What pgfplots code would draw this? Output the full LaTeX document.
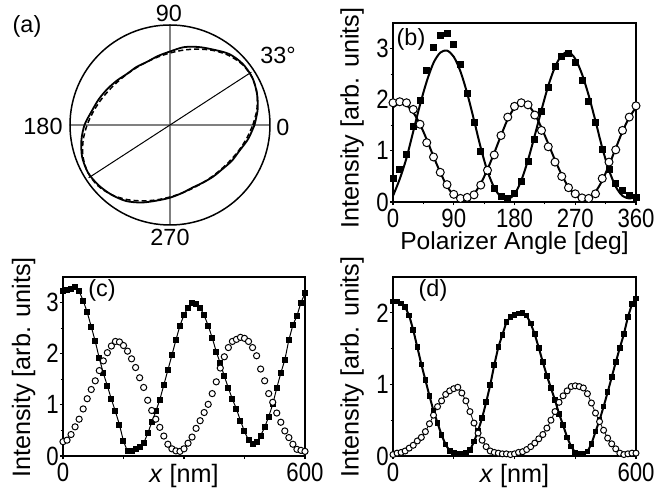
\documentclass[border=0pt]{standalone}
\usepackage{fontspec}
\setmainfont{Liberation Sans}
\newfontfamily\tickfont[FakeStretch=0.84]{Liberation Sans}
\usepackage{pgfplots}
\pgfplotsset{compat=1.18}
\usepgfplotslibrary{polar}

\pgfplotsset{
  panel/.style={scale only axis, anchor=south west, clip=false,
    axis line style={line width=1pt}, tick pos=left, tick align=outside,
    major tick length=1.6pt, minor tick length=1.2pt,
    every tick/.style={black, line width=0.6pt},
    ticklabel style={font=\tickfont\fontsize{13.2}{14}\selectfont},
    xticklabel style={inner sep=0pt, yshift=-1.5pt},
    yticklabel style={inner sep=0.3pt},
    /pgf/number format/assume math mode=true},
  sq/.style={only marks, mark=square*, mark size=#1, mark options={fill=black, draw=black}},
  circ/.style={only marks, mark=*, mark size=#1, mark options={fill=white, draw=black, line width=0.5pt}},
}
\newcommand{\lab}{\fontsize{11.7}{13}\selectfont}
\newcommand{\axl}{\fontsize{12.6}{14}\selectfont}

\begin{document}
\begin{tikzpicture}
\useasboundingbox (0,0) rectangle (329.5pt,245.5pt);

% (a) polar plot
\begin{polaraxis}[at={(85pt,183pt)}, anchor=center, scale only axis,
  width=100pt, height=100pt, ymin=0, ymax=1, ytick=\empty,
  xtick={0,90,180,270}, xticklabels=\empty, major tick length=0pt,
  xmajorgrids, grid style={black!50, line width=0.6pt},
  separate axis lines, x axis line style={line width=0.75pt},
  y axis line style={draw=none}, clip=false]
\addplot[no marks, black, line width=0.5pt] coordinates {(33,0.97) (213,0.97)};
\addplot[no marks, smooth, black, line width=0.9pt] coordinates {
 (0,0.845) (10,0.890) (20,0.925) (30,0.950) (40,0.950) (50,0.925) (60,0.870)
 (70,0.830) (80,0.790) (90,0.735) (100,0.700) (110,0.672) (120,0.670) (130,0.668)
 (140,0.692) (150,0.722) (160,0.757) (170,0.795) (180,0.855) (190,0.900) (200,0.935)
 (210,0.948) (220,0.935) (230,0.910) (240,0.878) (250,0.825) (260,0.768) (270,0.727)
 (280,0.691) (290,0.665) (300,0.664) (310,0.673) (320,0.685) (330,0.715) (340,0.742)
 (350,0.795) (360,0.845)};
\addplot[no marks, smooth, black, line width=0.75pt, dash pattern=on 2.5pt off 1.5pt] coordinates {
 (0,0.829) (10,0.882) (20,0.926) (30,0.949) (40,0.943) (50,0.910) (60,0.861)
 (70,0.808) (80,0.760) (90,0.720) (100,0.691) (110,0.672) (120,0.664) (130,0.666)
 (140,0.678) (150,0.701) (160,0.735) (170,0.778) (180,0.829) (190,0.882) (200,0.926)
 (210,0.949) (220,0.943) (230,0.910) (240,0.861) (250,0.808) (260,0.760) (270,0.720)
 (280,0.691) (290,0.672) (300,0.664) (310,0.666) (320,0.678) (330,0.701) (340,0.735)
 (350,0.778) (360,0.829)};
\end{polaraxis}

% (b) polarizer angle
\begin{axis}[panel, at={(196.5pt,144.5pt)}, width=121.5pt, height=89.5pt,
  xmin=0, xmax=360, ymin=0, ymax=3.5,
  xtick={0,90,180,270,360}, minor xtick={45,135,225,315},
  ytick={0,1,2,3}, minor ytick={0.5,1.5,2.5}]
\addplot[smooth, black, line width=1pt] coordinates {
 (0,0.12) (10,0.45) (20,0.86) (30,1.38) (40,1.90) (50,2.36) (60,2.72) (70,2.92)
 (80,2.96) (90,2.84) (100,2.55) (110,2.12) (120,1.60) (130,1.06) (140,0.60) (150,0.28)
 (160,0.10) (170,0.06) (180,0.15) (190,0.42) (200,0.82) (210,1.30) (220,1.80) (230,2.27)
 (240,2.64) (250,2.87) (260,2.93) (270,2.80) (280,2.50) (290,2.08) (300,1.58) (310,1.06)
 (320,0.62) (330,0.30) (340,0.12) (350,0.07) (360,0.10)};
\addplot[smooth, black, line width=1pt] coordinates {
 (0,1.85) (10,1.93) (20,1.89) (30,1.75) (40,1.52) (50,1.22) (60,0.89) (70,0.58)
 (80,0.31) (90,0.13) (100,0.05) (110,0.07) (120,0.16) (130,0.36) (140,0.64) (150,0.96)
 (160,1.30) (170,1.62) (180,1.84) (190,1.92) (200,1.89) (210,1.72) (220,1.45) (230,1.14)
 (240,0.82) (250,0.53) (260,0.29) (270,0.13) (280,0.06) (290,0.08) (300,0.20) (310,0.42)
 (320,0.72) (330,1.05) (340,1.38) (350,1.65) (360,1.85)};
\addplot[sq=1.5pt] coordinates {
 (0,0.46) (10,0.64) (20,0.93) (30,1.47) (40,1.98) (50,2.57) (60,3.03) (70,3.25)
 (80,3.29) (90,3.08) (100,2.69) (110,2.12) (120,1.55) (130,0.99) (140,0.60) (150,0.26)
 (160,0.10) (170,0.07) (180,0.17) (190,0.40) (200,0.79) (210,1.22) (220,1.78) (230,2.25)
 (240,2.65) (250,2.85) (260,2.90) (270,2.72) (280,2.38) (290,1.97) (300,1.55) (310,1.03)
 (320,0.63) (330,0.36) (340,0.22) (350,0.13) (360,0.09)};
\addplot[circ=2pt] coordinates {
 (0,1.94) (10,1.96) (20,1.94) (30,1.81) (40,1.52) (50,1.16) (60,0.88) (70,0.58)
 (80,0.34) (90,0.15) (100,0.07) (110,0.09) (120,0.14) (130,0.33) (140,0.62) (150,0.92)
 (160,1.30) (170,1.66) (180,1.87) (190,1.94) (200,1.90) (210,1.70) (220,1.40) (230,1.08)
 (240,0.78) (250,0.50) (260,0.28) (270,0.16) (280,0.08) (290,0.07) (300,0.16) (310,0.46)
 (320,0.78) (330,1.02) (340,1.40) (350,1.66) (360,1.88)};
\end{axis}

% (c)
\begin{axis}[panel, at={(31.5pt,17.5pt)}, width=121pt, height=89.5pt,
  xmin=0, xmax=600, ymin=0, ymax=3.5,
  xtick={0,150,300,450,600}, xticklabels={0,,,,600},
  ytick={0,1,2,3}, minor ytick={0.5,1.5,2.5}]
\addplot[black, line width=0.5pt, mark=square*, mark size=1.25pt] coordinates {
 (0,3.22) (10,3.24) (20,3.27) (30,3.30) (40,3.22) (50,3.04) (60,2.81) (70,2.53)
 (80,2.24) (90,1.91) (100,1.62) (110,1.37) (120,1.11) (130,0.87) (140,0.61) (150,0.29)
 (160,0.09) (170,0.10) (180,0.13) (190,0.18) (200,0.25) (210,0.44) (220,0.66) (230,0.87)
 (240,1.10) (250,1.39) (260,1.68) (270,1.97) (280,2.27) (290,2.55) (300,2.76) (310,2.90)
 (320,2.99) (330,2.98) (340,2.90) (350,2.75) (360,2.55) (370,2.31) (380,2.04) (390,1.81)
 (400,1.56) (410,1.33) (420,1.11) (430,0.92) (440,0.69) (450,0.48) (460,0.31) (470,0.24)
 (480,0.27) (490,0.40) (500,0.56) (510,0.77) (520,1.01) (530,1.33) (540,1.62) (550,1.88)
 (560,2.27) (570,2.56) (580,2.74) (590,3.00) (600,3.18)};
\addplot[circ=1.55pt] coordinates {
 (0,0.28) (10,0.31) (20,0.42) (30,0.57) (40,0.72) (50,0.92) (60,1.12) (70,1.30)
 (80,1.47) (90,1.67) (100,1.86) (110,2.02) (120,2.15) (130,2.24) (140,2.23) (150,2.16)
 (160,2.05) (170,1.90) (180,1.73) (190,1.53) (200,1.34) (210,1.09) (220,0.89) (230,0.72)
 (240,0.56) (250,0.39) (260,0.23) (270,0.14) (280,0.10) (290,0.09) (300,0.14) (310,0.25)
 (320,0.37) (330,0.54) (340,0.69) (350,0.85) (360,1.01) (370,1.22) (380,1.45) (390,1.72)
 (400,1.94) (410,2.12) (420,2.24) (430,2.28) (440,2.32) (450,2.30) (460,2.24) (470,2.12)
 (480,1.96) (490,1.70) (500,1.47) (510,1.22) (520,1.05) (530,0.84) (540,0.66) (550,0.49)
 (560,0.36) (570,0.23) (580,0.13) (590,0.11) (600,0.09)};
\end{axis}

% (d)
\begin{axis}[panel, at={(196.5pt,17.5pt)}, width=121.5pt, height=89.5pt,
  xmin=0, xmax=600, ymin=0, ymax=2.5,
  xtick={0,150,300,450,600}, xticklabels={0,,,,600},
  ytick={0,1,2}, minor ytick={0.5,1.5}]
\addplot[black, line width=1pt, mark=square*, mark size=0.9pt] coordinates {
 (0,2.16) (10,2.16) (20,2.13) (30,2.08) (40,1.96) (50,1.76) (60,1.52) (70,1.28)
 (80,1.06) (90,0.84) (100,0.63) (110,0.46) (120,0.29) (130,0.16) (140,0.07) (150,0.04)
 (160,0.03) (170,0.03) (180,0.04) (190,0.08) (200,0.20) (210,0.35) (220,0.53) (230,0.75)
 (240,0.99) (250,1.27) (260,1.52) (270,1.69) (280,1.87) (290,1.94) (300,1.97) (310,1.99)
 (320,2.00) (330,1.96) (340,1.85) (350,1.70) (360,1.51) (370,1.31) (380,1.12) (390,0.95)
 (400,0.78) (410,0.59) (420,0.43) (430,0.26) (440,0.13) (450,0.05) (460,0.03) (470,0.03)
 (480,0.06) (490,0.17) (500,0.34) (510,0.50) (520,0.69) (530,0.89) (540,1.10) (550,1.31)
 (560,1.51) (570,1.70) (580,1.94) (590,2.12) (600,2.20)};
\addplot[black, line width=0.4pt, mark=*, mark size=1.5pt, mark options={fill=white, draw=black, line width=0.5pt}] coordinates {
 (0,0.02) (10,0.04) (20,0.05) (30,0.07) (40,0.11) (50,0.15) (60,0.21) (70,0.26)
 (80,0.34) (90,0.45) (100,0.57) (110,0.69) (120,0.77) (130,0.86) (140,0.91) (150,0.94)
 (160,0.96) (170,0.88) (180,0.77) (190,0.62) (200,0.46) (210,0.32) (220,0.22) (230,0.13)
 (240,0.07) (250,0.05) (260,0.04) (270,0.03) (280,0.03) (290,0.02) (300,0.03) (310,0.05)
 (320,0.06) (330,0.09) (340,0.13) (350,0.18) (360,0.24) (370,0.30) (380,0.39) (390,0.50)
 (400,0.62) (410,0.75) (420,0.84) (430,0.91) (440,0.97) (450,0.98) (460,0.97) (470,0.95)
 (480,0.87) (490,0.74) (500,0.60) (510,0.48) (520,0.36) (530,0.25) (540,0.17) (550,0.10)
 (560,0.04) (570,0.02) (580,0.03) (590,0.04) (600,0.04)};
\end{axis}

% texts
\node[font=\lab] at (13.5pt,232.5pt) {(a)};
\node[font=\lab] at (84.5pt,239pt) {90};
\node[font=\lab] at (85pt,127pt) {270};
\node[font=\lab] at (21.5pt,182.5pt) {180};
\node[font=\lab] at (141.5pt,182pt) {0};
\node[font=\lab] at (139pt,218pt) {33°};
\node[font=\lab] at (205.5pt,226pt) {(b)};
\node[font=\lab] at (51pt,100.5pt) {(c)};
\node[font=\lab] at (216.5pt,100.5pt) {(d)};
\node[font=\axl, rotate=90] at (176pt,186.5pt) {Intensity [arb. units]};
\node[font=\axl, rotate=90] at (11.75pt,61.75pt) {Intensity [arb. units]};
\node[font=\axl, rotate=90] at (176pt,62pt) {Intensity [arb. units]};
\node[font=\fontsize{12.3}{14}\selectfont, anchor=base, inner sep=0pt] at (257.25pt,120.5pt) {Polarizer Angle [deg]};
\node[font=\axl, anchor=base, inner sep=0pt] at (92pt,4pt) {\textit{x} [nm]};
\node[font=\axl, anchor=base, inner sep=0pt] at (257.25pt,4pt) {\textit{x} [nm]};
\end{tikzpicture}
\end{document}
